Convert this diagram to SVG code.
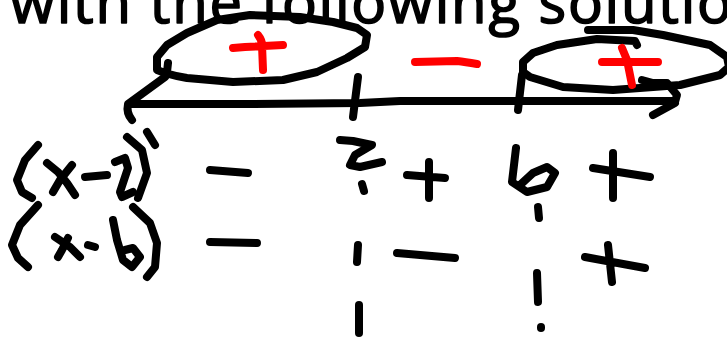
<svg xmlns="http://www.w3.org/2000/svg" width="727" height="338" viewBox="0 0 727 338">
<style>
.k{fill:none;stroke:#000;stroke-width:8;stroke-linecap:round;stroke-linejoin:round}
.r{fill:none;stroke:#ff0000;stroke-width:8;stroke-linecap:round;stroke-linejoin:round}
.t{font-family:"Open Sans","DejaVu Sans",sans-serif;font-size:58px;fill:#000;stroke:#000;stroke-width:1.6;stroke-linejoin:round}
</style>
<rect width="727" height="338" fill="#fff"/>
<text class="t" x="10" y="23" textLength="722" lengthAdjust="spacing">with the following solutio</text>
<g id="axis">
<path class="k" d="M165,77 L128,104 Q126,113 132,120"/>
<path class="k" d="M131,104 L250,104 L360,103 L400,101 L675,101"/>
<path class="k" d="M642,80 L653,83 L667,83 L677,95 L675,102"/>
<path class="k" d="M675,103 L653,115"/>
<path class="k" d="M358,77 L353,117"/>
<path class="k" d="M522,75 L518,110"/>
</g>
<g id="ellipse1">
<path class="k" d="M168,63 L167,72 M165,73 C175,76 187,78 187,78 L233,82 L283,80 L317,72 L347,58 L365,47 L367,35 L357,28 L333,22 L300,17 L250,15 L217,20 L187,33 L167,45 L157,57 L157,70 L165,73"/>
<path class="r" d="M258,35 Q262,40 262,45 L263,70 M233,48 L245,47 L283,45"/>
</g>
<g id="minus">
<path class="r" d="M415,62 L457,61 Q465,62 477,64"/>
</g>
<g id="ellipse2">
<path class="k" d="M637,45 L635,41 L597,39 L557,45 L533,53 L523,62 L523,72 L530,77 L563,87 L613,90 L680,85 L720,75 L729,67 L727,57 L710,45 L663,35 L633,30 L588,30"/>
<path class="r" d="M622,48 L627,60 L632,85 M602,62 L658,62"/>
</g>
<g id="factors">
<path class="k" d="M38,145 L25,160 L17,180 L22,192 L32,198"/>
<path class="k" d="M47,163 L58,172 L67,183 L75,195 M72,165 L60,180 L53,192"/>
<path class="k" d="M85,177 L107,175"/>
<path class="k" d="M115,162 L125,158 L128,168 L120,192 L122,197 L133,192"/>
<path class="k" d="M127,137 L142,150 L147,173 L138,198"/>
<path class="k" d="M147,132 L155,145"/>
<path class="k" d="M38,205 L20,225 L12,245 L18,258 L28,267"/>
<path class="k" d="M55,237 L70,247 L80,257 M68,238 L62,250 L58,257"/>
<path class="k" d="M88,245 L95,247"/>
<path class="k" d="M113,220 L117,240 L123,260 L132,267 L140,257 L133,248 L125,250"/>
<path class="k" d="M133,207 L150,223 L157,243 L155,267 L147,277"/>
</g>
<g id="signs">
<path class="k" d="M210,170 L248,173"/>
<path class="k" d="M210,242 L257,243"/>
<path class="k" d="M340,140 L353,141 L372,145 L355,155 L350,165 L360,167 L382,162"/>
<path class="k" d="M362,184 L364,191"/>
<path class="k" d="M429,162 L429,198 M407,175 L445,178"/>
<path class="k" d="M358,245 L357,262"/>
<path class="k" d="M397,253 L455,258"/>
<path class="k" d="M359,305 L359,333"/>
<path class="k" d="M516,148 L512,182 L527,192 L547,187 L555,173 L547,167 L533,173 L520,185"/>
<path class="k" d="M538,207 L539,218"/>
<path class="k" d="M537,273 L538,302"/>
<path class="k" d="M541,327 L541,328"/>
<path class="k" d="M613,153 L613,198 M593,168 L650,177"/>
<path class="k" d="M608,245 L612,282 M585,257 L645,268"/>
</g>
</svg>
